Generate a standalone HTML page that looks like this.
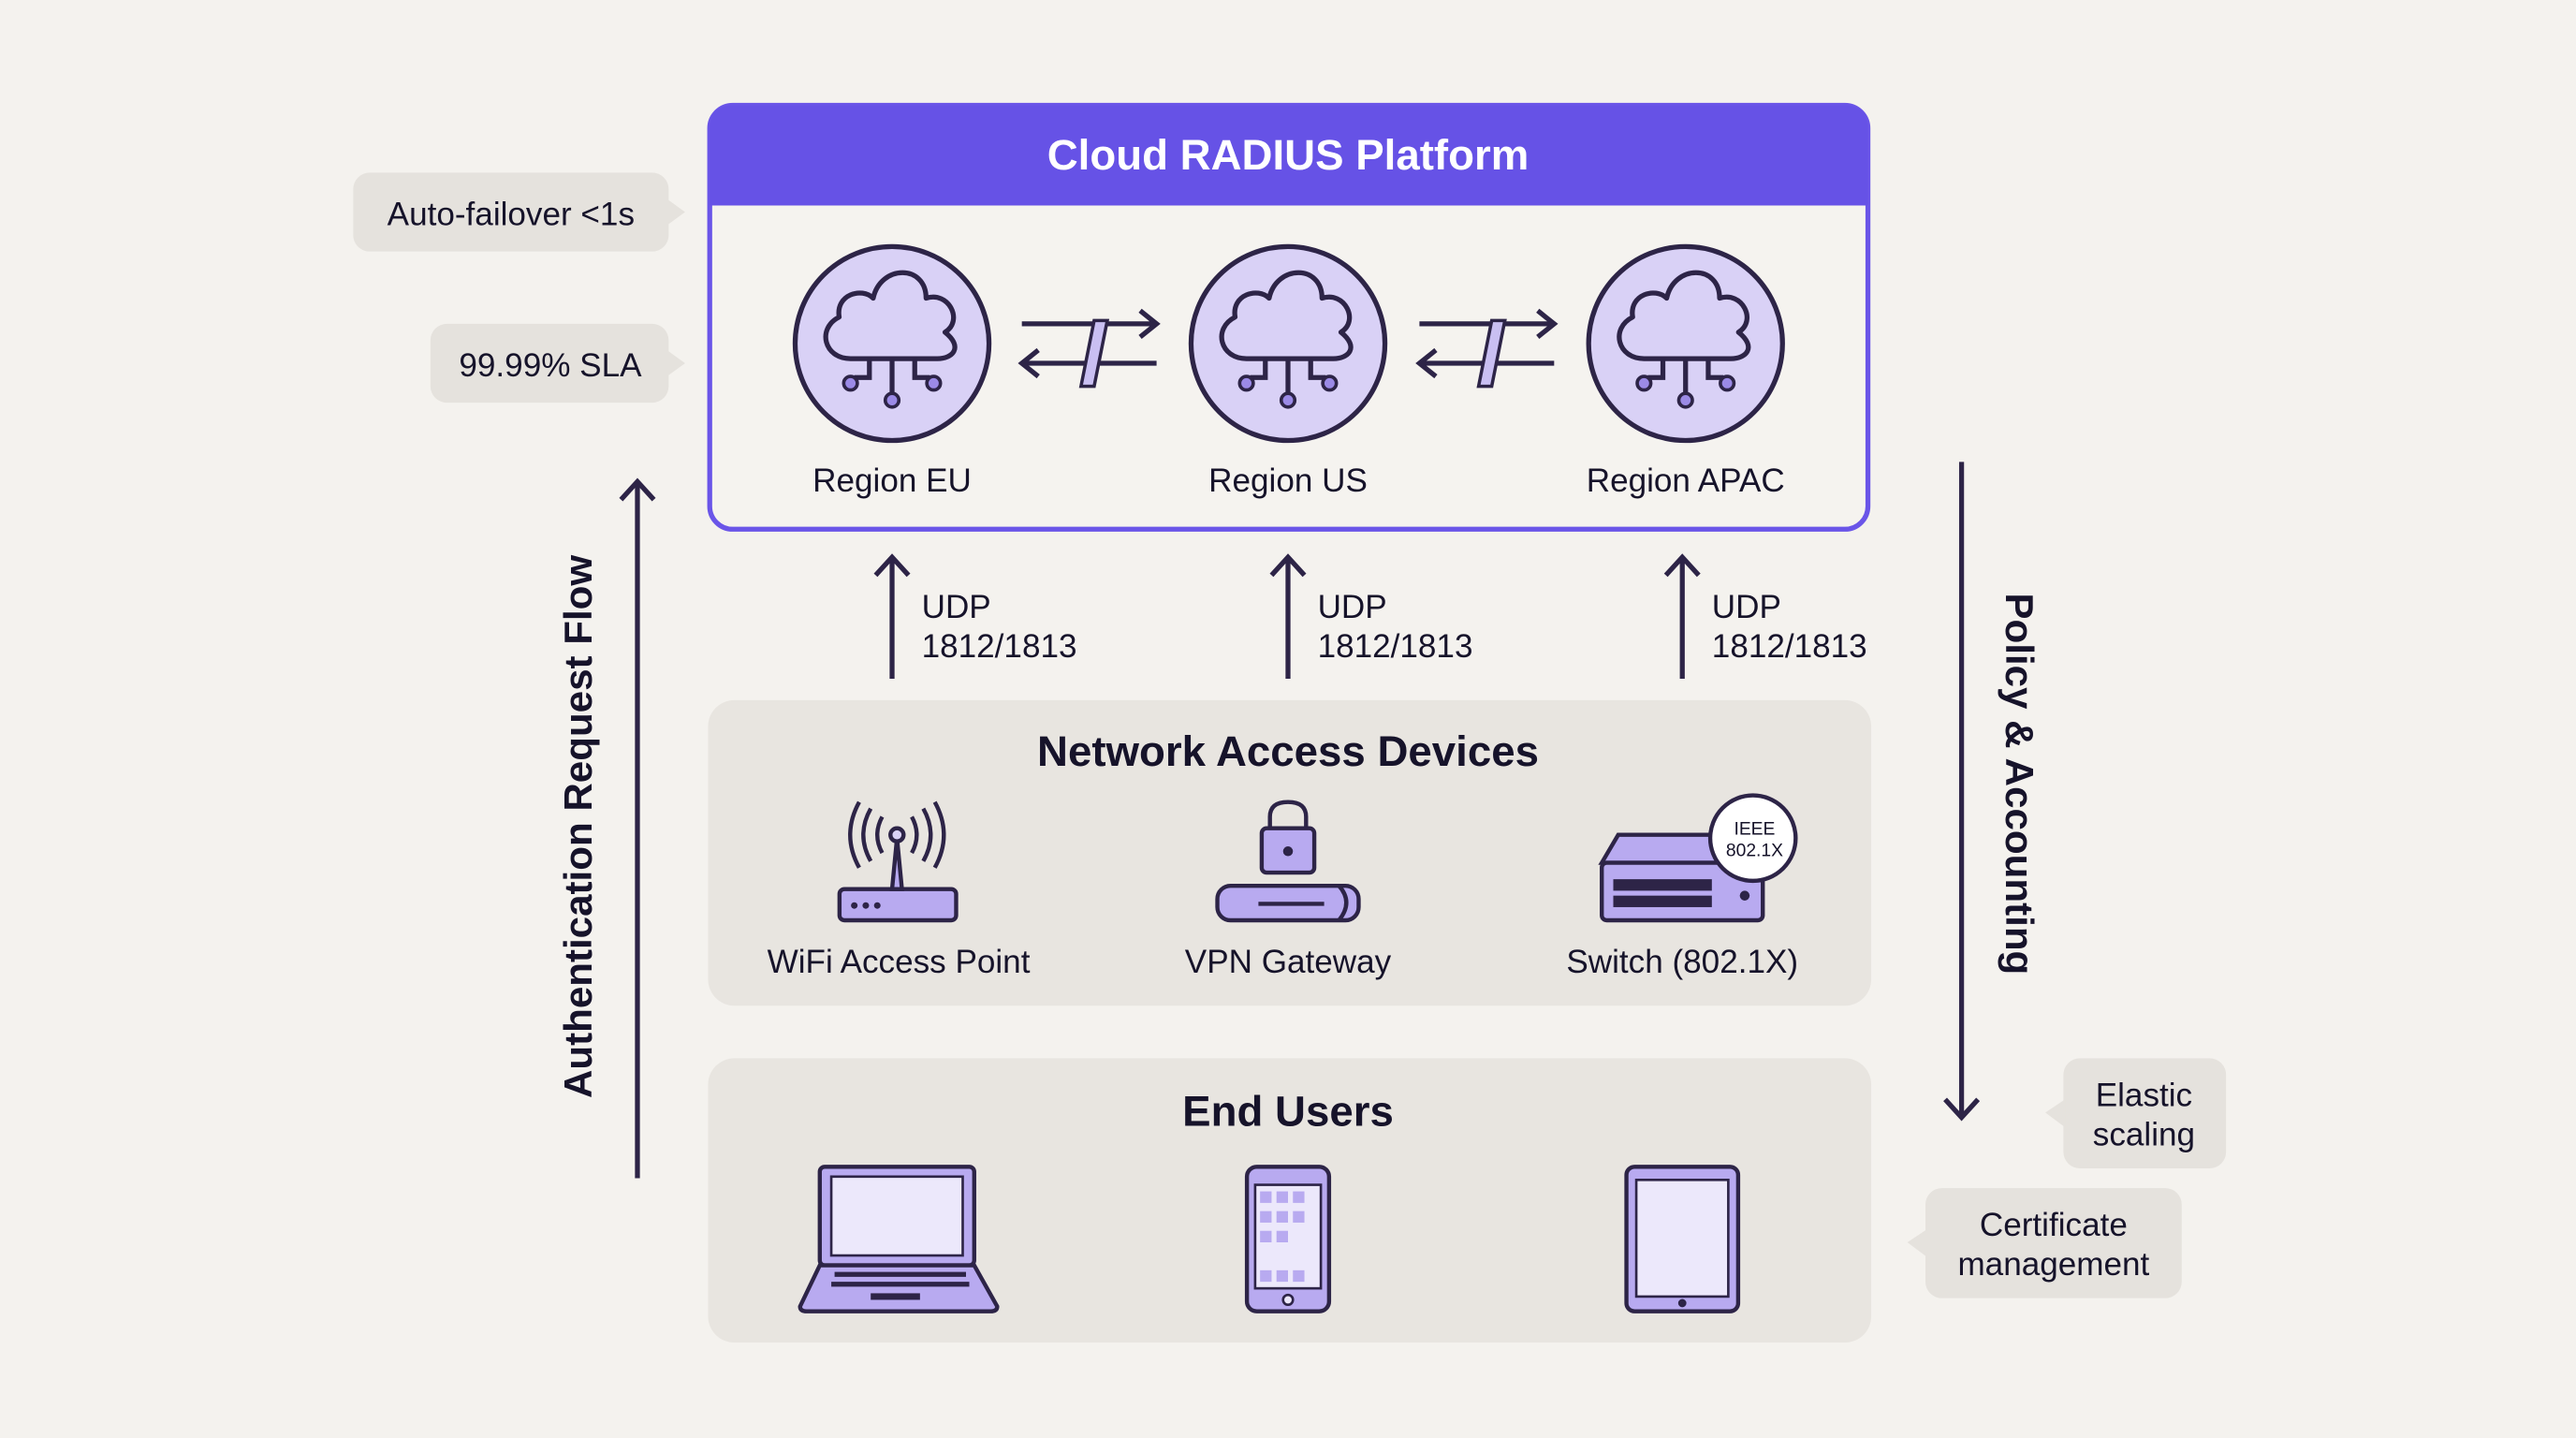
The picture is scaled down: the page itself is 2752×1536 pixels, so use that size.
<!DOCTYPE html>
<html><head><meta charset="utf-8"><style>
html,body{margin:0;padding:0;background:#f4f2ee;}
svg{display:block}
text{font-family:"Liberation Sans",sans-serif;fill:#16132a}
</style></head><body>
<svg width="2752" height="1536" viewBox="0 0 1568 875" xmlns="http://www.w3.org/2000/svg">
<defs>
<g id="cloud">
 <circle r="59" fill="#d9d1f6" stroke="#2d2447" stroke-width="3"/>
 <g transform="scale(1.15) translate(0,-2)">
 <path d="M-22,10 C-36,10 -40,-6 -28,-12 C-30,-24 -16,-28 -10,-22 C-6,-40 18,-40 18,-22 C30,-26 38,-10 28,-4 C38,4 32,10 24,10 Z" fill="#d9d1f6" stroke="#2d2447" stroke-width="2.6" stroke-linejoin="round"/>
 <path d="M-12,10 V20 H-20 M0,10 V28 M12,10 V20 H20" fill="none" stroke="#2d2447" stroke-width="2.6"/>
 <circle cx="-22" cy="23" r="3.6" fill="#9b8ae6" stroke="#2d2447" stroke-width="1.8"/>
 <circle cx="22" cy="23" r="3.6" fill="#9b8ae6" stroke="#2d2447" stroke-width="1.8"/>
 <circle cx="0" cy="32" r="3.6" fill="#9b8ae6" stroke="#2d2447" stroke-width="1.8"/>
 </g>
</g>
<g id="dual">
 <path d="M0,-12 H82 M72,-20 L82,-12 L72,-4 M0,12 H82 M10,4 L0,12 L10,20" fill="none" stroke="#2d2447" stroke-width="3"/>
 <path d="M36,10 L44,-30 L52,-30 L44,10 Z" transform="translate(0,16)" fill="#c9bff2" stroke="#2d2447" stroke-width="2"/>
</g>
</defs>

<rect x="432" y="64" width="705" height="258" rx="14" fill="#f5f3ef" stroke="#6a55e8" stroke-width="3"/>
<path d="M432,125 V78 Q432,64 446,64 H1123 Q1137,64 1137,78 V125 Z" fill="#6652e6"/>
<text x="784" y="103" text-anchor="middle" font-size="26" font-weight="bold" style="fill:#fff">Cloud RADIUS Platform</text>
<use href="#cloud" x="543" y="209"/>
<use href="#cloud" x="784" y="209"/>
<use href="#cloud" x="1026" y="209"/>
<use href="#dual" x="622" y="209"/>
<use href="#dual" x="864" y="209"/>
<text x="543" y="299" text-anchor="middle" font-size="20">Region EU</text>
<text x="784" y="299" text-anchor="middle" font-size="20">Region US</text>
<text x="1026" y="299" text-anchor="middle" font-size="20">Region APAC</text>

<g stroke="#2d2447" stroke-width="3" fill="none">
 <path d="M543,413 V340 M533,350 L543,339 L553,350"/>
 <path d="M784,413 V340 M774,350 L784,339 L794,350"/>
 <path d="M1024,413 V340 M1014,350 L1024,339 L1034,350"/>
 <path d="M388,717 V293 M378,304 L388,293 L398,304"/>
 <path d="M1194,281 V680 M1184,669 L1194,680 L1204,669"/>
</g>
<g font-size="20">
<text x="561" y="376">UDP</text><text x="561" y="400">1812/1813</text>
<text x="802" y="376">UDP</text><text x="802" y="400">1812/1813</text>
<text x="1042" y="376">UDP</text><text x="1042" y="400">1812/1813</text>
</g>
<text transform="translate(360,503) rotate(-90)" text-anchor="middle" font-size="24" font-weight="bold">Authentication Request Flow</text>
<text transform="translate(1221,477) rotate(90)" text-anchor="middle" font-size="24" font-weight="bold">Policy &amp; Accounting</text>

<rect x="431" y="426" width="708" height="186" rx="16" fill="#e8e5e0"/>
<text x="784" y="466" text-anchor="middle" font-size="26" font-weight="bold">Network Access Devices</text>
<g stroke="#2d2447" stroke-width="2.5" fill="#b8aaf0">
 <rect x="511" y="541" width="71" height="19" rx="3"/>
 <path d="M543,541 L546,510 L549,541 Z"/>
 <circle cx="546" cy="508" r="4" fill="#d9d1f6"/>
 <path d="M537,497 Q531,508 537,519 M555,497 Q561,508 555,519 M530,492 Q521,508 530,524 M562,492 Q571,508 562,524 M523,488 Q512,508 523,528 M569,488 Q580,508 569,528" fill="none"/>
 <path d="M773,505 V497 Q773,488 784,488 Q795,488 795,497 V505" fill="none"/>
 <rect x="768" y="504" width="32" height="27" rx="3"/>
 <rect x="741" y="539" width="86" height="21" rx="8"/>
 <path d="M815,539 Q824,549 815,560" fill="none"/>
 <path d="M766,550 H806" />
 <path d="M975,525 L985,508 H1060 L1070,525 Z"/>
 <rect x="975" y="525" width="98" height="35" rx="3"/>
 <circle cx="1067" cy="510" r="26" fill="#fff"/>
</g>
<g fill="#2d2447">
 <circle cx="520" cy="551" r="2"/><circle cx="527" cy="551" r="2"/><circle cx="534" cy="551" r="2"/>
 <circle cx="784" cy="518" r="3"/>
 <rect x="982" y="535" width="60" height="7"/><rect x="982" y="545" width="60" height="7"/>
 <circle cx="1062" cy="545" r="3"/>
</g>
<text x="1068" y="508" text-anchor="middle" font-size="11">IEEE</text>
<text x="1068" y="521" text-anchor="middle" font-size="11">802.1X</text>
<text x="547" y="592" text-anchor="middle" font-size="20">WiFi Access Point</text>
<text x="784" y="592" text-anchor="middle" font-size="20">VPN Gateway</text>
<text x="1024" y="592" text-anchor="middle" font-size="20">Switch (802.1X)</text>

<rect x="431" y="644" width="708" height="173" rx="16" fill="#e8e5e0"/>
<text x="784" y="685" text-anchor="middle" font-size="26" font-weight="bold">End Users</text>
<g stroke="#2d2447" stroke-width="2.5">
 <rect x="499" y="710" width="94" height="60" rx="3" fill="#b8aaf0"/>
 <rect x="506" y="716" width="80" height="48" fill="#ece8fb" stroke-width="1.5"/>
 <path d="M499,770 L487,795 Q487,798 491,798 H603 Q607,798 607,795 L593,770 Z" fill="#b8aaf0"/>
 <rect x="759" y="710" width="50" height="88" rx="6" fill="#b8aaf0"/>
 <rect x="764" y="721" width="40" height="63" fill="#ece8fb" stroke-width="1.5"/>
 <circle cx="784" cy="791" r="3" fill="#ece8fb" stroke-width="1.5"/>
 <rect x="990" y="710" width="68" height="88" rx="5" fill="#b8aaf0"/>
 <rect x="996" y="718" width="56" height="71" fill="#ece8fb" stroke-width="1.5"/>
</g>
<g fill="#2d2447"><rect x="508" y="774" width="80" height="3"/><rect x="506" y="780" width="84" height="3"/><rect x="530" y="787" width="30" height="4"/><circle cx="1024" cy="793" r="2.5"/></g>
<g fill="#b8aaf0"><rect x="767" y="725" width="7" height="7"/><rect x="777" y="725" width="7" height="7"/><rect x="787" y="725" width="7" height="7"/><rect x="767" y="737" width="7" height="7"/><rect x="777" y="737" width="7" height="7"/><rect x="787" y="737" width="7" height="7"/><rect x="767" y="749" width="7" height="7"/><rect x="777" y="749" width="7" height="7"/><rect x="767" y="773" width="7" height="7"/><rect x="777" y="773" width="7" height="7"/><rect x="787" y="773" width="7" height="7"/></g>

<g fill="#e5e2dd">
 <rect x="215" y="105" width="192" height="48" rx="10"/><path d="M406,121 L417,129 L406,137 Z"/>
 <rect x="262" y="197" width="145" height="48" rx="10"/><path d="M406,213 L417,221 L406,229 Z"/>
 <rect x="1256" y="644" width="99" height="67" rx="10"/><path d="M1257,669 L1245,677 L1257,686 Z"/>
 <rect x="1172" y="723" width="156" height="67" rx="10"/><path d="M1173,748 L1161,756 L1173,765 Z"/>
</g>
<g font-size="20">
<text x="311" y="137" text-anchor="middle">Auto-failover &lt;1s</text>
<text x="335" y="229" text-anchor="middle">99.99% SLA</text>
<text x="1305" y="673" text-anchor="middle">Elastic</text><text x="1305" y="697" text-anchor="middle">scaling</text>
<text x="1250" y="752" text-anchor="middle">Certificate</text><text x="1250" y="776" text-anchor="middle">management</text>
</g>
</svg>
</body></html>
